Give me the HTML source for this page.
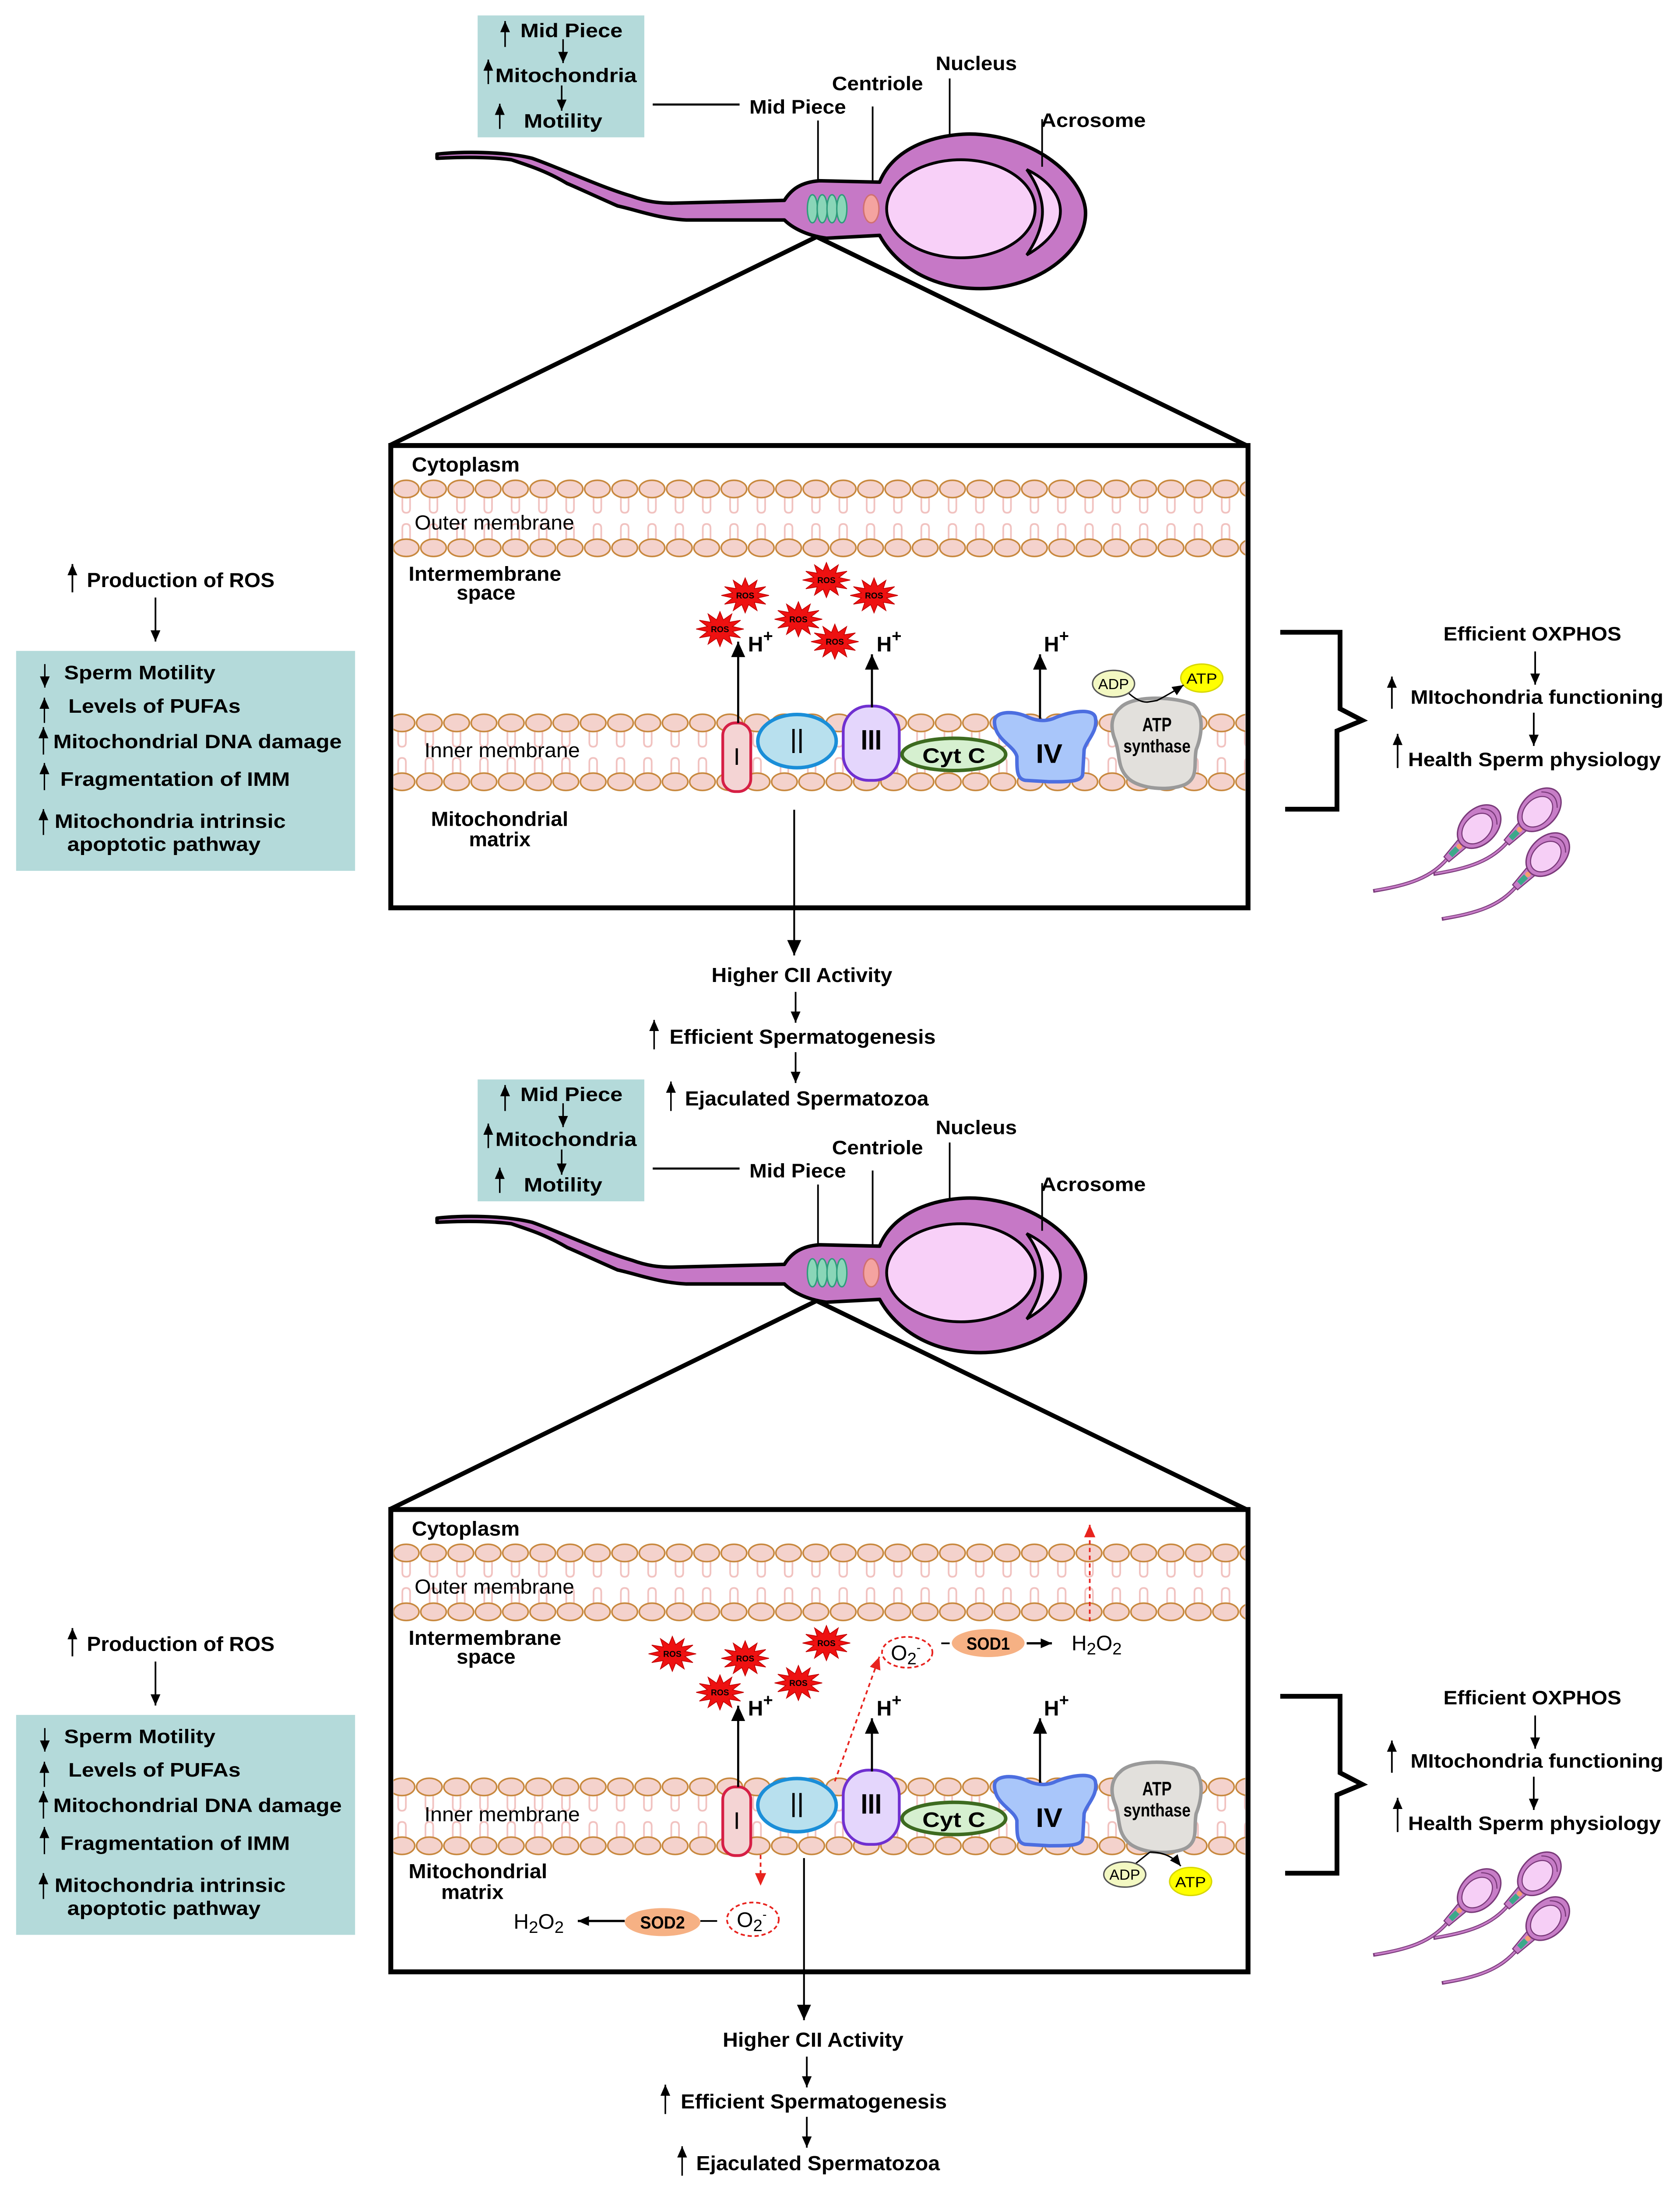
<!DOCTYPE html>
<html><head><meta charset="utf-8"><style>
html,body{margin:0;padding:0;background:#fff;width:3838px;height:5017px;overflow:hidden}
svg{display:block}
text{font-family:"Liberation Sans",Arial,sans-serif;fill:#000}
.b{font-weight:bold}
</style></head><body>
<svg width="3838" height="5017" viewBox="0 0 1199.4 1567.8" xmlns="http://www.w3.org/2000/svg">
<defs>
<marker id="ab" markerUnits="userSpaceOnUse" markerWidth="12" markerHeight="10" refX="11" refY="5" orient="auto"><path d="M0,0 L11,5 L0,10 Z" fill="#000"/></marker>
<marker id="as" markerUnits="userSpaceOnUse" markerWidth="9" markerHeight="7" refX="8" refY="3.5" orient="auto"><path d="M0,0 L8,3.5 L0,7 Z" fill="#000"/></marker>
<marker id="ar" markerUnits="userSpaceOnUse" markerWidth="10" markerHeight="8" refX="9" refY="4" orient="auto"><path d="M0,0 L9,4 L0,8 Z" fill="#e8231e"/></marker>
<pattern id="mo" patternUnits="userSpaceOnUse" x="280.25" y="341" width="19.5" height="58">
<path d="M7,14 V22 Q7,25 9.75,25 Q12.5,25 12.5,22 V14 M7,44 V36 Q7,33 9.75,33 Q12.5,33 12.5,36 V44" stroke="#f1c2c0" fill="none" stroke-width="1.2"/>
<ellipse cx="9.75" cy="8" rx="9.1" ry="6.2" fill="#f4d2cc" stroke="#c7873c" stroke-width="1.1"/>
<ellipse cx="9.75" cy="50" rx="9.1" ry="6.2" fill="#f4d2cc" stroke="#c7873c" stroke-width="1.1"/>
</pattern>
<pattern id="mi" patternUnits="userSpaceOnUse" x="277.25" y="508" width="19.5" height="58">
<path d="M7,14 V22 Q7,25 9.75,25 Q12.5,25 12.5,22 V14 M7,44 V36 Q7,33 9.75,33 Q12.5,33 12.5,36 V44" stroke="#f1c2c0" fill="none" stroke-width="1.2"/>
<ellipse cx="9.75" cy="8" rx="9.1" ry="6.2" fill="#f4d2cc" stroke="#c7873c" stroke-width="1.1"/>
<ellipse cx="9.75" cy="50" rx="9.1" ry="6.2" fill="#f4d2cc" stroke="#c7873c" stroke-width="1.1"/>
</pattern>
<polygon id="star" points="17,0 9,1.8 14.7,6.25 6.6,4.9 8.5,10.8 2.4,6.6 0,12.5 -2.4,6.6 -8.5,10.8 -6.6,4.9 -14.7,6.25 -9,1.8 -17,0 -9,-1.8 -14.7,-6.25 -6.6,-4.9 -8.5,-10.8 -2.4,-6.6 0,-12.5 2.4,-6.6 8.5,-10.8 6.6,-4.9 14.7,-6.25 9,-1.8" fill="#ee1111" stroke="#c00000" stroke-width="0.5"/>

<g id="mito">
<rect x="279" y="318" width="612" height="330" fill="#fff" stroke="#000" stroke-width="3.5"/>
<rect x="281" y="341" width="608" height="58" fill="url(#mo)"/>
<rect x="281" y="508" width="608" height="58" fill="url(#mi)"/>
<rect x="516" y="516" width="20" height="49" rx="9" fill="#f4d4d4" stroke="#d61f45" stroke-width="2"/>
<ellipse cx="569" cy="529" rx="28" ry="19" fill="#b8e0ee" stroke="#1a8ed8" stroke-width="2.5"/>
<rect x="602" y="504" width="40" height="53" rx="18" fill="#e4d6fc" stroke="#7030d0" stroke-width="2"/>
<ellipse cx="681" cy="538.5" rx="37" ry="11.5" fill="#d6f0d0" stroke="#3d6b20" stroke-width="2.5"/>
<path d="M710,515 C710,508 722,507 732,511 C738,514 746,516 754,512 C764,508 780,505 782,512 C784,522 776,528 774,535 L773,552 C773,558 764,558 749,558 L732,557 C726,556 726,550 726,540 C724,532 710,528 710,515 Z" fill="#a9c6fa" stroke="#4c6ee0" stroke-width="2.5"/>
<path d="M800,505 C809,496 839,497 852,503 C860,510 858,525 854,535 C852,545 856,555 846,560 C834,565 814,563 806,556 C797,548 800,538 796,528 C792,518 794,510 800,505 Z" fill="#e2e0dc" stroke="#9a9a9a" stroke-width="2.5"/>
<line x1="527" y1="516" x2="527" y2="458" stroke="#000" stroke-width="1.5" marker-end="url(#ab)"/>
<line x1="622.5" y1="505" x2="622.5" y2="467" stroke="#000" stroke-width="1.5" marker-end="url(#ab)"/>
<line x1="742.5" y1="513" x2="742.5" y2="467" stroke="#000" stroke-width="1.5" marker-end="url(#ab)"/>
</g>

<g id="sperm">
<line x1="583" y1="169" x2="278" y2="318" stroke="#000" stroke-width="3.2"/>
<line x1="583" y1="169" x2="890" y2="318" stroke="#000" stroke-width="3.2"/>
<path d="M312,110 C330,108 360,108 380,113 C400,120 430,134 451,140 C462,144 470,145 480,145 L560,143 C565,135 572,130 585,129 L628,130 C640,100 680,94 700,96 C745,100 775,130 775,152 C775,180 740,206 700,206 C665,206 640,190 628,168 L590,170 C575,168 565,162 560,157 L490,157 C470,156 455,150 441,147 C425,140 410,133 405,131 C390,122 377,118 365,114 C350,112 330,112 312,113 Z" fill="#c678c6" stroke="#000" stroke-width="2.5" stroke-linejoin="round"/>
<ellipse cx="686" cy="149" rx="53" ry="35" fill="#f8d0f8" stroke="#000" stroke-width="2"/>
<path d="M733,121 C762,135 768,162 733,182 C748,160 748,142 733,121 Z" fill="#f8d0f8" stroke="#000" stroke-width="2"/>
<g fill="#8ad6b8" stroke="#2f9c7c" stroke-width="1">
<ellipse cx="580" cy="149" rx="3.6" ry="10"/><ellipse cx="587" cy="149" rx="3.6" ry="10"/><ellipse cx="594" cy="149" rx="3.6" ry="10"/><ellipse cx="601" cy="149" rx="3.6" ry="10"/></g>
<ellipse cx="622" cy="149" rx="5.5" ry="10" fill="#f4a3a0" stroke="#d07070" stroke-width="1"/>
<g stroke="#000" stroke-width="1.2">
<line x1="584" y1="86" x2="584" y2="129"/><line x1="623" y1="76" x2="623" y2="129"/><line x1="678" y1="56" x2="678" y2="96"/><line x1="744" y1="85" x2="744" y2="119"/></g>
</g>

<g id="onesp">
<path d="M-30,0 C-50,2 -65,-6 -86,-21" fill="none" stroke="#7a3a7a" stroke-width="2.6"/>
<path d="M-30,0 C-50,2 -65,-6 -85,-20.5" fill="none" stroke="#c77dc7" stroke-width="1.3"/>
<path d="M-33,-2.5 L-17,-4 L-17,4 L-33,2.5 Z" fill="#c77dc7" stroke="#7a3a7a" stroke-width="0.8"/>
<rect x="-29" y="-2" width="7" height="4" fill="#3ba98a"/>
<circle cx="-20" cy="0" r="1.9" fill="#f4a070"/>
<ellipse cx="0" cy="0" rx="18" ry="12.5" fill="#c77dc7" stroke="#7a3a7a" stroke-width="1"/>
<ellipse cx="-2" cy="0" rx="12.5" ry="9" fill="#f6cff6" stroke="#7a3a7a" stroke-width="0.8"/>
<path d="M10,-8 Q18,0 10,8" fill="none" stroke="#7a3a7a" stroke-width="0.8"/>
</g>

<g id="rpanel">
<path d="M914,451.3 L956.7,451.3 L956.7,505.9 L972.6,514.2 L954.5,521.7 L954.5,577.6 L917.5,577.6" fill="none" stroke="#000" stroke-width="3.4"/>
<line x1="1096" y1="465" x2="1096" y2="488.7" stroke="#000" stroke-width="1.2" marker-end="url(#as)"/>
<line x1="993.7" y1="505.9" x2="993.7" y2="482.9" stroke="#000" stroke-width="1.2" marker-end="url(#as)"/>
<line x1="1095" y1="508.7" x2="1095" y2="532.4" stroke="#000" stroke-width="1.2" marker-end="url(#as)"/>
<line x1="997.8" y1="548.2" x2="997.8" y2="523.8" stroke="#000" stroke-width="1.2" marker-end="url(#as)"/>
<use href="#onesp" transform="translate(1056,590) rotate(-45)"/>
<use href="#onesp" transform="translate(1099,578) rotate(-45)"/>
<use href="#onesp" transform="translate(1105,610) rotate(-45)"/>
</g>

<g id="lpanel">
<line x1="51.7" y1="422.8" x2="51.7" y2="402.6" stroke="#000" stroke-width="1.2" marker-end="url(#as)"/>
<line x1="111" y1="426.5" x2="111" y2="457.9" stroke="#000" stroke-width="1.2" marker-end="url(#as)"/>
<rect x="11.5" y="464.6" width="242" height="157" fill="#b4dada"/>
<g stroke="#000" stroke-width="1">
<line x1="32" y1="474" x2="32" y2="490.8" marker-end="url(#as)"/>
<line x1="31.7" y1="516" x2="31.7" y2="498" marker-end="url(#as)"/>
<line x1="31" y1="538.6" x2="31" y2="519" marker-end="url(#as)"/>
<line x1="31.7" y1="564" x2="31.7" y2="544.6" marker-end="url(#as)"/>
<line x1="31" y1="596" x2="31" y2="577.5" marker-end="url(#as)"/>
</g>
</g>

<g id="topbox">
<rect x="341" y="11" width="119" height="87" fill="#b4dada"/>
<g stroke="#000" stroke-width="1.1">
<line x1="360.6" y1="33.5" x2="360.6" y2="15" marker-end="url(#as)"/>
<line x1="402" y1="28" x2="402" y2="45" marker-end="url(#as)"/>
<line x1="348.6" y1="60" x2="348.6" y2="42.5" marker-end="url(#as)"/>
<line x1="401" y1="61" x2="401" y2="79" marker-end="url(#as)"/>
<line x1="356.8" y1="92" x2="356.8" y2="74" marker-end="url(#as)"/>
</g>
<line x1="466" y1="74.6" x2="528" y2="74.6" stroke="#000" stroke-width="1.5"/>
</g>
</defs>

<!-- ================= TOP ================= -->
<use href="#topbox"/>
<text class="b" x="371.5" y="26.5" font-size="14" textLength="73" lengthAdjust="spacingAndGlyphs">Mid Piece</text>
<text class="b" x="353.6" y="58.5" font-size="14" textLength="101" lengthAdjust="spacingAndGlyphs">Mitochondria</text>
<text class="b" x="374" y="91" font-size="14" textLength="56" lengthAdjust="spacingAndGlyphs">Motility</text>
<use href="#sperm"/>
<text class="b" x="535" y="81" font-size="14" textLength="69" lengthAdjust="spacingAndGlyphs">Mid Piece</text>
<text class="b" x="594" y="64.4" font-size="14" textLength="65" lengthAdjust="spacingAndGlyphs">Centriole</text>
<text class="b" x="668" y="50" font-size="14" textLength="58" lengthAdjust="spacingAndGlyphs">Nucleus</text>
<text class="b" x="743" y="90.6" font-size="14" textLength="75" lengthAdjust="spacingAndGlyphs">Acrosome</text>

<use href="#mito"/>
<text class="b" x="294" y="336.6" font-size="14.5" textLength="77" lengthAdjust="spacingAndGlyphs">Cytoplasm</text>
<text x="296" y="378" font-size="14.5" textLength="114" lengthAdjust="spacingAndGlyphs">Outer membrane</text>
<text class="b" x="291.7" y="414.5" font-size="14.5" textLength="109" lengthAdjust="spacingAndGlyphs">Intermembrane</text>
<text class="b" x="326" y="428" font-size="14.5" textLength="42" lengthAdjust="spacingAndGlyphs">space</text>
<text x="303" y="540.5" font-size="14.5" textLength="111" lengthAdjust="spacingAndGlyphs">Inner membrane</text>
<text x="526" y="546" font-size="17" text-anchor="middle">I</text>
<text x="569" y="537.5" font-size="25" text-anchor="middle" textLength="10" lengthAdjust="spacingAndGlyphs">II</text>
<text class="b" x="622" y="535" font-size="20" text-anchor="middle" textLength="15" lengthAdjust="spacingAndGlyphs">III</text>
<text class="b" x="681" y="544.5" font-size="15" text-anchor="middle" textLength="45" lengthAdjust="spacingAndGlyphs">Cyt C</text>
<text class="b" x="749" y="544.5" font-size="19" text-anchor="middle" textLength="19" lengthAdjust="spacingAndGlyphs">IV</text>
<text class="b" x="826" y="522" font-size="14" text-anchor="middle" textLength="21" lengthAdjust="spacingAndGlyphs">ATP</text>
<text class="b" x="826" y="537" font-size="13" text-anchor="middle" textLength="48" lengthAdjust="spacingAndGlyphs">synthase</text>
<text class="b" x="534" y="465" font-size="15">H<tspan dy="-7" font-size="12">+</tspan></text>
<text class="b" x="625.8" y="465" font-size="15">H<tspan dy="-7" font-size="12">+</tspan></text>
<text class="b" x="745.3" y="465" font-size="15">H<tspan dy="-7" font-size="12">+</tspan></text>
<text class="b" x="307.7" y="589.5" font-size="14.5" textLength="98" lengthAdjust="spacingAndGlyphs">Mitochondrial</text>
<text class="b" x="334.8" y="604" font-size="14.5" textLength="44" lengthAdjust="spacingAndGlyphs">matrix</text>
<!-- ROS top -->
<g text-anchor="middle">
<use href="#star" transform="translate(532,425)"/><text x="532" y="427.2" font-size="6" class="b">ROS</text>
<use href="#star" transform="translate(590,414)"/><text x="590" y="416.2" font-size="6" class="b">ROS</text>
<use href="#star" transform="translate(624,425)"/><text x="624" y="427.2" font-size="6" class="b">ROS</text>
<use href="#star" transform="translate(570,442)"/><text x="570" y="444.2" font-size="6" class="b">ROS</text>
<use href="#star" transform="translate(514,449)"/><text x="514" y="451.2" font-size="6" class="b">ROS</text>
<use href="#star" transform="translate(596,458)"/><text x="596" y="460.2" font-size="6" class="b">ROS</text>
</g>
<!-- ADP/ATP top -->
<ellipse cx="795" cy="488" rx="15" ry="9.5" fill="#f3f8c2" stroke="#555" stroke-width="1"/>
<text x="795" y="491.8" font-size="10.5" text-anchor="middle" textLength="22" lengthAdjust="spacingAndGlyphs">ADP</text>
<ellipse cx="858" cy="484" rx="15" ry="10" fill="#ffff00" stroke="#d8d800" stroke-width="1"/>
<text x="858" y="488" font-size="10.5" text-anchor="middle" textLength="22" lengthAdjust="spacingAndGlyphs">ATP</text>
<path d="M806,495 Q814,502 820,501 L826,500 Q834,496 845,489" fill="none" stroke="#000" stroke-width="1" marker-end="url(#as)"/>
<!-- flow below top box -->
<line x1="567" y1="578" x2="567" y2="682" stroke="#000" stroke-width="1.3" marker-end="url(#ab)"/>
<text class="b" x="508" y="701" font-size="14.5" textLength="129" lengthAdjust="spacingAndGlyphs">Higher CII Activity</text>
<line x1="568" y1="708" x2="568" y2="730" stroke="#000" stroke-width="1.2" marker-end="url(#as)"/>
<line x1="467" y1="749" x2="467" y2="728" stroke="#000" stroke-width="1.1" marker-end="url(#as)"/>
<text class="b" x="478" y="745" font-size="14.5" textLength="190" lengthAdjust="spacingAndGlyphs">Efficient Spermatogenesis</text>
<line x1="568" y1="751" x2="568" y2="773" stroke="#000" stroke-width="1.2" marker-end="url(#as)"/>
<line x1="479" y1="793" x2="479" y2="772" stroke="#000" stroke-width="1.1" marker-end="url(#as)"/>
<text class="b" x="489" y="789" font-size="14.5" textLength="174" lengthAdjust="spacingAndGlyphs">Ejaculated Spermatozoa</text>

<!-- left panel top -->
<use href="#lpanel"/>
<text class="b" x="62" y="419" font-size="14.5" textLength="134" lengthAdjust="spacingAndGlyphs">Production of ROS</text>
<text class="b" x="45.8" y="484.8" font-size="14" textLength="108" lengthAdjust="spacingAndGlyphs">Sperm Motility</text>
<text class="b" x="48.8" y="508.7" font-size="14" textLength="123" lengthAdjust="spacingAndGlyphs">Levels of PUFAs</text>
<text class="b" x="38" y="534" font-size="14" textLength="206" lengthAdjust="spacingAndGlyphs">Mitochondrial DNA damage</text>
<text class="b" x="43" y="561" font-size="14" textLength="164" lengthAdjust="spacingAndGlyphs">Fragmentation of IMM</text>
<text class="b" x="39" y="591" font-size="14" textLength="165" lengthAdjust="spacingAndGlyphs">Mitochondria intrinsic</text>
<text class="b" x="48" y="607.4" font-size="14" textLength="138" lengthAdjust="spacingAndGlyphs">apoptotic pathway</text>

<!-- right panel top -->
<use href="#rpanel"/>
<text class="b" x="1030.5" y="457.1" font-size="14" textLength="127" lengthAdjust="spacingAndGlyphs">Efficient OXPHOS</text>
<text class="b" x="1007" y="502.3" font-size="14" textLength="180.5" lengthAdjust="spacingAndGlyphs">MItochondria functioning</text>
<text class="b" x="1005.3" y="546.8" font-size="14" textLength="180.4" lengthAdjust="spacingAndGlyphs">Health Sperm physiology</text>

<!-- ================= BOTTOM ================= -->
<g transform="translate(0,759.5)">
<use href="#topbox"/>
<text class="b" x="371.5" y="26.5" font-size="14" textLength="73" lengthAdjust="spacingAndGlyphs">Mid Piece</text>
<text class="b" x="353.6" y="58.5" font-size="14" textLength="101" lengthAdjust="spacingAndGlyphs">Mitochondria</text>
<text class="b" x="374" y="91" font-size="14" textLength="56" lengthAdjust="spacingAndGlyphs">Motility</text>
<use href="#sperm"/>
<text class="b" x="535" y="81" font-size="14" textLength="69" lengthAdjust="spacingAndGlyphs">Mid Piece</text>
<text class="b" x="594" y="64.4" font-size="14" textLength="65" lengthAdjust="spacingAndGlyphs">Centriole</text>
<text class="b" x="668" y="50" font-size="14" textLength="58" lengthAdjust="spacingAndGlyphs">Nucleus</text>
<text class="b" x="743" y="90.6" font-size="14" textLength="75" lengthAdjust="spacingAndGlyphs">Acrosome</text>
<use href="#mito"/>
<text class="b" x="294" y="336.6" font-size="14.5" textLength="77" lengthAdjust="spacingAndGlyphs">Cytoplasm</text>
<text x="296" y="378" font-size="14.5" textLength="114" lengthAdjust="spacingAndGlyphs">Outer membrane</text>
<text class="b" x="291.7" y="414.5" font-size="14.5" textLength="109" lengthAdjust="spacingAndGlyphs">Intermembrane</text>
<text class="b" x="326" y="428" font-size="14.5" textLength="42" lengthAdjust="spacingAndGlyphs">space</text>
<text x="303" y="540.5" font-size="14.5" textLength="111" lengthAdjust="spacingAndGlyphs">Inner membrane</text>
<text x="526" y="546" font-size="17" text-anchor="middle">I</text>
<text x="569" y="537.5" font-size="25" text-anchor="middle" textLength="10" lengthAdjust="spacingAndGlyphs">II</text>
<text class="b" x="622" y="535" font-size="20" text-anchor="middle" textLength="15" lengthAdjust="spacingAndGlyphs">III</text>
<text class="b" x="681" y="544.5" font-size="15" text-anchor="middle" textLength="45" lengthAdjust="spacingAndGlyphs">Cyt C</text>
<text class="b" x="749" y="544.5" font-size="19" text-anchor="middle" textLength="19" lengthAdjust="spacingAndGlyphs">IV</text>
<text class="b" x="826" y="522" font-size="14" text-anchor="middle" textLength="21" lengthAdjust="spacingAndGlyphs">ATP</text>
<text class="b" x="826" y="537" font-size="13" text-anchor="middle" textLength="48" lengthAdjust="spacingAndGlyphs">synthase</text>
<text class="b" x="534" y="465" font-size="15">H<tspan dy="-7" font-size="12">+</tspan></text>
<text class="b" x="625.8" y="465" font-size="15">H<tspan dy="-7" font-size="12">+</tspan></text>
<text class="b" x="745.3" y="465" font-size="15">H<tspan dy="-7" font-size="12">+</tspan></text>

<use href="#lpanel"/>
<text class="b" x="62" y="419" font-size="14.5" textLength="134" lengthAdjust="spacingAndGlyphs">Production of ROS</text>
<text class="b" x="45.8" y="484.8" font-size="14" textLength="108" lengthAdjust="spacingAndGlyphs">Sperm Motility</text>
<text class="b" x="48.8" y="508.7" font-size="14" textLength="123" lengthAdjust="spacingAndGlyphs">Levels of PUFAs</text>
<text class="b" x="38" y="534" font-size="14" textLength="206" lengthAdjust="spacingAndGlyphs">Mitochondrial DNA damage</text>
<text class="b" x="43" y="561" font-size="14" textLength="164" lengthAdjust="spacingAndGlyphs">Fragmentation of IMM</text>
<text class="b" x="39" y="591" font-size="14" textLength="165" lengthAdjust="spacingAndGlyphs">Mitochondria intrinsic</text>
<text class="b" x="48" y="607.4" font-size="14" textLength="138" lengthAdjust="spacingAndGlyphs">apoptotic pathway</text>

<use href="#rpanel"/>
<text class="b" x="1030.5" y="457.1" font-size="14" textLength="127" lengthAdjust="spacingAndGlyphs">Efficient OXPHOS</text>
<text class="b" x="1007" y="502.3" font-size="14" textLength="180.5" lengthAdjust="spacingAndGlyphs">MItochondria functioning</text>
<text class="b" x="1005.3" y="546.8" font-size="14" textLength="180.4" lengthAdjust="spacingAndGlyphs">Health Sperm physiology</text>
</g>

<text class="b" x="291.7" y="1340.6" font-size="14.5" textLength="99" lengthAdjust="spacingAndGlyphs">Mitochondrial</text>
<text class="b" x="315" y="1355.5" font-size="14.5" textLength="44.5" lengthAdjust="spacingAndGlyphs">matrix</text>

<!-- ROS bottom -->
<g text-anchor="middle">
<use href="#star" transform="translate(480,1180.5)"/><text x="480" y="1182.7" font-size="6" class="b">ROS</text>
<use href="#star" transform="translate(532,1183.7)"/><text x="532" y="1185.9" font-size="6" class="b">ROS</text>
<use href="#star" transform="translate(590,1172.8)"/><text x="590" y="1175" font-size="6" class="b">ROS</text>
<use href="#star" transform="translate(514,1208)"/><text x="514" y="1210.2" font-size="6" class="b">ROS</text>
<use href="#star" transform="translate(570,1201.3)"/><text x="570" y="1203.5" font-size="6" class="b">ROS</text>
</g>

<!-- superoxide / SOD bottom -->
<line x1="778" y1="1157.4" x2="778" y2="1088.3" stroke="#e8231e" stroke-width="1.2" stroke-dasharray="3,2.5" marker-end="url(#ar)"/>
<line x1="596" y1="1271.5" x2="627.8" y2="1182.6" stroke="#e8231e" stroke-width="1.2" stroke-dasharray="3,2.5" marker-end="url(#ar)"/>
<line x1="543" y1="1324" x2="543" y2="1346" stroke="#e8231e" stroke-width="1.2" stroke-dasharray="3,2.5" marker-end="url(#ar)"/>
<ellipse cx="647.7" cy="1179.4" rx="18" ry="11" fill="#fff" stroke="#e8231e" stroke-width="1.2" stroke-dasharray="3,2"/>
<text x="636" y="1185" font-size="15">O<tspan dy="3" font-size="12">2</tspan><tspan dy="-9" font-size="9">-</tspan></text>
<line x1="672" y1="1173" x2="678" y2="1173" stroke="#000" stroke-width="1.2"/>
<ellipse cx="705.5" cy="1172.8" rx="26" ry="10" fill="#f6b184"/>
<text class="b" x="705.5" y="1177.5" font-size="12.5" text-anchor="middle" textLength="31" lengthAdjust="spacingAndGlyphs">SOD1</text>
<line x1="733" y1="1173" x2="751" y2="1173" stroke="#000" stroke-width="1.6" marker-end="url(#as)"/>
<text x="765" y="1178" font-size="15">H<tspan dy="3" font-size="12">2</tspan><tspan dy="-3">O</tspan><tspan dy="3" font-size="12">2</tspan></text>

<ellipse cx="537.5" cy="1370" rx="18.5" ry="12" fill="#fff" stroke="#e8231e" stroke-width="1.2" stroke-dasharray="3,2"/>
<text x="526" y="1375.5" font-size="15">O<tspan dy="3" font-size="12">2</tspan><tspan dy="-9" font-size="9">-</tspan></text>
<line x1="500" y1="1371.2" x2="512" y2="1371.2" stroke="#000" stroke-width="1.2"/>
<ellipse cx="473" cy="1372" rx="27" ry="10" fill="#f6b184"/>
<text class="b" x="473" y="1376.5" font-size="12.5" text-anchor="middle" textLength="32" lengthAdjust="spacingAndGlyphs">SOD2</text>
<line x1="446" y1="1371.2" x2="412.5" y2="1371.2" stroke="#000" stroke-width="1.6" marker-end="url(#as)"/>
<text x="366.7" y="1376.7" font-size="15">H<tspan dy="3" font-size="12">2</tspan><tspan dy="-3">O</tspan><tspan dy="3" font-size="12">2</tspan></text>

<!-- ADP/ATP bottom -->
<path d="M821,1322 L811,1330" fill="none" stroke="#000" stroke-width="1"/>
<path d="M821,1322 Q835,1322 843,1332" fill="none" stroke="#000" stroke-width="1" marker-end="url(#as)"/>
<ellipse cx="803" cy="1338" rx="15" ry="9" fill="#f3f8c2" stroke="#555" stroke-width="1"/>
<text x="803" y="1341.8" font-size="10.5" text-anchor="middle" textLength="22" lengthAdjust="spacingAndGlyphs">ADP</text>
<ellipse cx="850" cy="1343" rx="15" ry="10" fill="#ffff00" stroke="#d8d800" stroke-width="1"/>
<text x="850" y="1347" font-size="10.5" text-anchor="middle" textLength="22" lengthAdjust="spacingAndGlyphs">ATP</text>

<!-- flow bottom -->
<line x1="574" y1="1326.3" x2="574" y2="1442" stroke="#000" stroke-width="1.3" marker-end="url(#ab)"/>
<text class="b" x="516" y="1461" font-size="14.5" textLength="129" lengthAdjust="spacingAndGlyphs">Higher CII Activity</text>
<line x1="576" y1="1468" x2="576" y2="1490" stroke="#000" stroke-width="1.2" marker-end="url(#as)"/>
<line x1="475" y1="1509" x2="475" y2="1488" stroke="#000" stroke-width="1.1" marker-end="url(#as)"/>
<text class="b" x="486" y="1505" font-size="14.5" textLength="190" lengthAdjust="spacingAndGlyphs">Efficient Spermatogenesis</text>
<line x1="576" y1="1511" x2="576" y2="1533" stroke="#000" stroke-width="1.2" marker-end="url(#as)"/>
<line x1="487" y1="1553" x2="487" y2="1532" stroke="#000" stroke-width="1.1" marker-end="url(#as)"/>
<text class="b" x="497" y="1549" font-size="14.5" textLength="174" lengthAdjust="spacingAndGlyphs">Ejaculated Spermatozoa</text>
</svg>
</body></html>
